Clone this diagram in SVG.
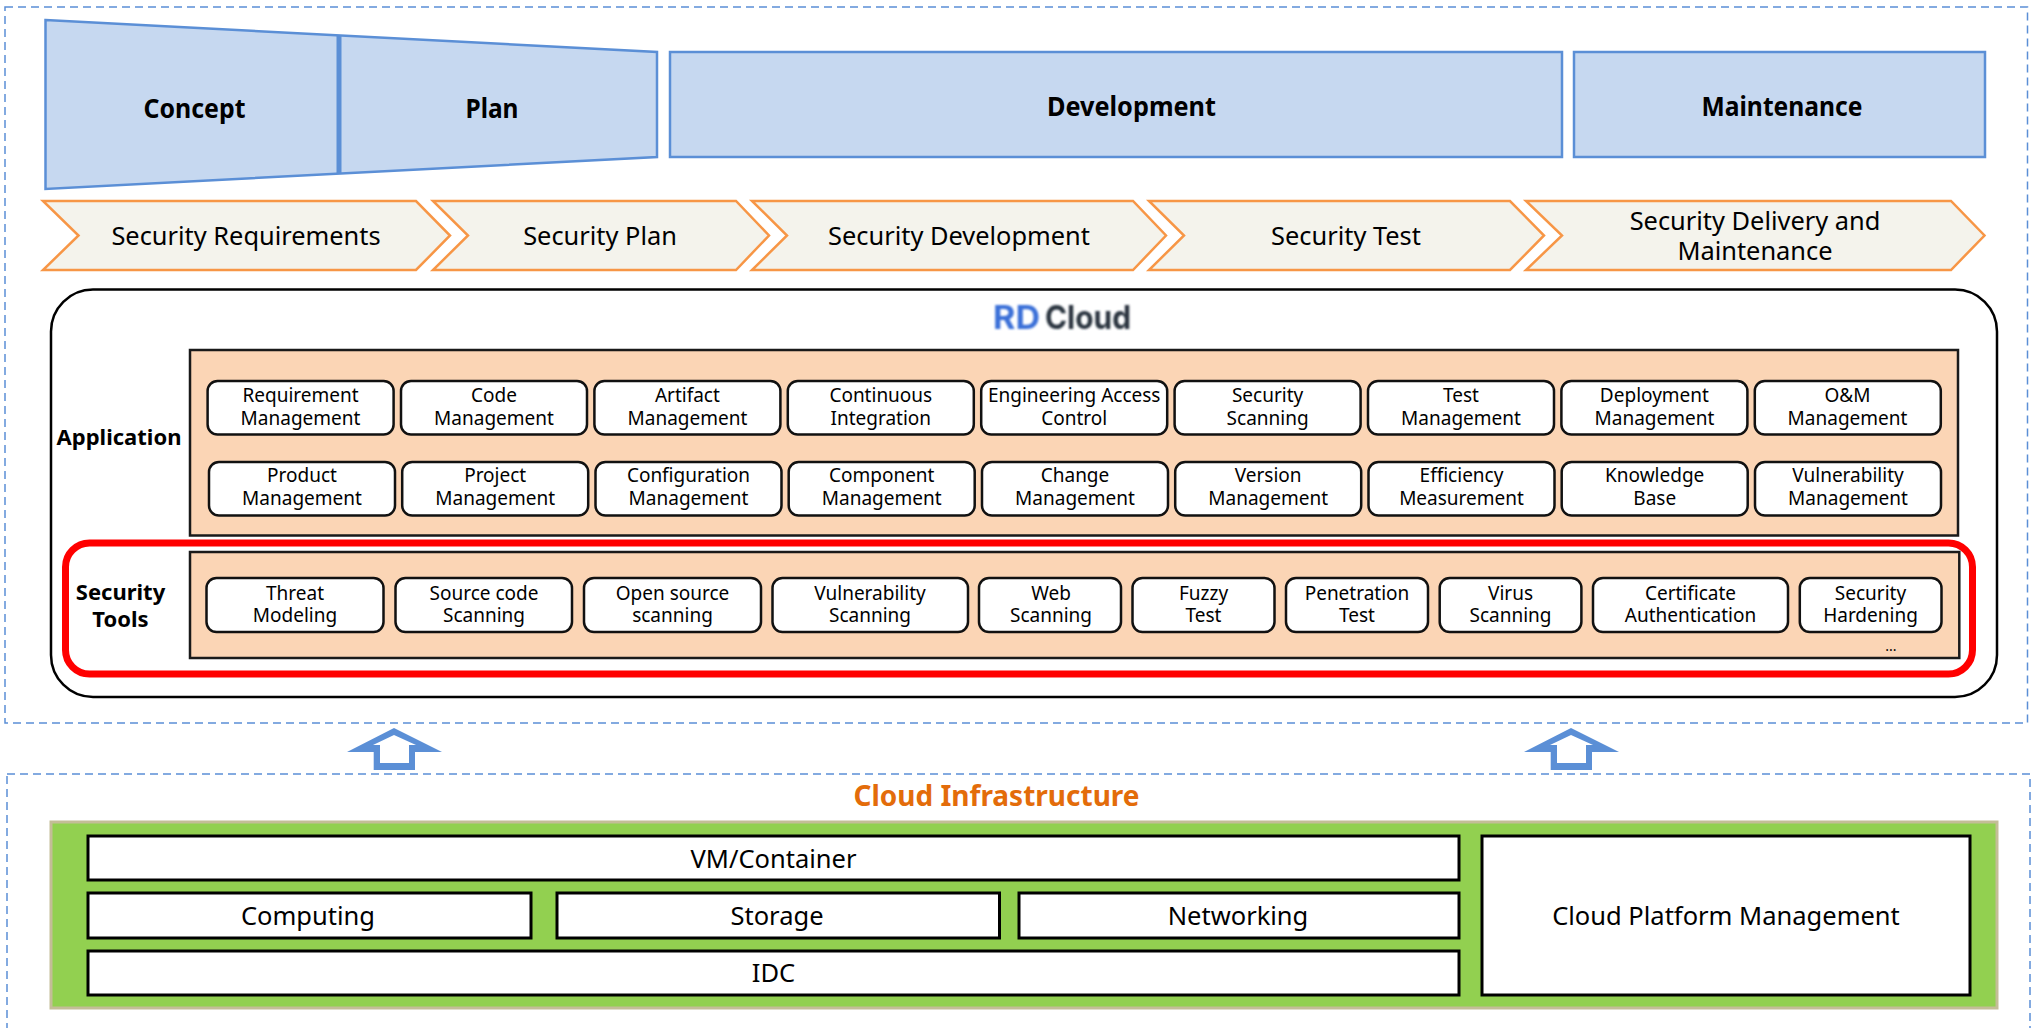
<svg xmlns="http://www.w3.org/2000/svg" width="2035" height="1028" viewBox="0 0 2035 1028">
<defs><filter id="soft" x="-5%" y="-20%" width="110%" height="140%"><feGaussianBlur stdDeviation="0.9"/></filter></defs>
<style>
text{font-family:"Noto Sans","Open Sans","Liberation Sans",sans-serif;text-anchor:middle;fill:#000}
.dash{fill:none;stroke:#5B8FD6;stroke-width:1.5;stroke-dasharray:8 5}
.phase{fill:#C6D8F0;stroke:#5B8FD6;stroke-width:2.5}
.chev{fill:#F4F3EC;stroke:#F79646;stroke-width:2.5}
.phaset{font-size:26.500px;font-weight:700}
.chevt{font-size:25.400px}
.panel{fill:#FBD5B5;stroke:#1a1a1a;stroke-width:2.5}
.item{fill:#fff;stroke:#111;stroke-width:2.5}
.it{font-size:19px}
.side{font-size:22px;font-weight:700}
.infra{fill:#fff;stroke:#000;stroke-width:3}
.infrat{font-size:25.500px}
</style>
<rect class="dash" x="5" y="7" width="2022.500" height="716"/>
<rect class="dash" x="7" y="774" width="2023" height="270"/>
<g id="concept-plan"><path class="phase" d="M45.500 20L657 52V157L45.500 189Z"/><path d="M339 35V173" stroke="#5B8FD6" stroke-width="5" fill="none"/><text class="phaset" x="194.500" y="118" textLength="102" lengthAdjust="spacingAndGlyphs">Concept</text><text class="phaset" x="492" y="118" textLength="53" lengthAdjust="spacingAndGlyphs">Plan</text></g>
<g id="development"><rect class="phase" x="670" y="52" width="892" height="105"/><text class="phaset" x="1131.500" y="116" textLength="169" lengthAdjust="spacingAndGlyphs">Development</text></g>
<g id="maintenance"><rect class="phase" x="1574" y="52" width="411" height="105"/><text class="phaset" x="1782" y="116" textLength="161" lengthAdjust="spacingAndGlyphs">Maintenance</text></g>
<g id="sec-requirements"><path class="chev" d="M43 201H416L450 235.500L416 270H43L78.500 235.500Z"/><text class="chevt" x="246" y="245">Security Requirements</text></g>
<g id="sec-plan"><path class="chev" d="M433 201H736L769 235.500L736 270H433L468 235.500Z"/><text class="chevt" x="600" y="245">Security Plan</text></g>
<g id="sec-development"><path class="chev" d="M752 201H1133L1166 235.500L1133 270H752L787 235.500Z"/><text class="chevt" x="959" y="245">Security Development</text></g>
<g id="sec-test"><path class="chev" d="M1149 201H1510L1544 235.500L1510 270H1149L1184 235.500Z"/><text class="chevt" x="1346" y="245">Security Test</text></g>
<g id="sec-delivery"><path class="chev" d="M1526 201H1951L1984.500 235.500L1951 270H1526L1562 235.500Z"/><text class="chevt" x="1755" y="230">Security Delivery and</text><text class="chevt" x="1755" y="260">Maintenance</text></g>
<g id="rd-cloud"><rect x="51" y="289.500" width="1946" height="407.500" rx="42" fill="#fff" stroke="#000" stroke-width="2.500"/>
<text x="1016.500" y="329" filter="url(#soft)" style="font-family:Inter,'Liberation Sans',sans-serif;font-size:33px;font-weight:700;fill:#3A6FD8" textLength="47" lengthAdjust="spacingAndGlyphs">RD</text>
<text x="1088" y="329" filter="url(#soft)" style="font-family:Inter,'Liberation Sans',sans-serif;font-size:33px;font-weight:700;fill:#2B3440" textLength="86" lengthAdjust="spacingAndGlyphs">Cloud</text></g>
<g id="application"><text class="side" x="119" y="445">Application</text><rect class="panel" x="190" y="350" width="1768" height="185.500"/>
<g id="app-1"><rect class="item" x="207.600" y="381" width="186" height="53.500" rx="10"/><text class="it" x="300.500" y="402">Requirement</text><text class="it" x="300.500" y="424.800">Management</text></g>
<g id="app-2"><rect class="item" x="401" y="381" width="186" height="53.500" rx="10"/><text class="it" x="494" y="402">Code</text><text class="it" x="494" y="424.800">Management</text></g>
<g id="app-3"><rect class="item" x="594.400" y="381" width="186" height="53.500" rx="10"/><text class="it" x="687.400" y="402">Artifact</text><text class="it" x="687.400" y="424.800">Management</text></g>
<g id="app-4"><rect class="item" x="787.800" y="381" width="186" height="53.500" rx="10"/><text class="it" x="880.800" y="402">Continuous</text><text class="it" x="880.800" y="424.800">Integration</text></g>
<g id="app-5"><rect class="item" x="981.200" y="381" width="186" height="53.500" rx="10"/><text class="it" x="1074.200" y="402">Engineering Access</text><text class="it" x="1074.200" y="424.800">Control</text></g>
<g id="app-6"><rect class="item" x="1174.600" y="381" width="186" height="53.500" rx="10"/><text class="it" x="1267.600" y="402">Security</text><text class="it" x="1267.600" y="424.800">Scanning</text></g>
<g id="app-7"><rect class="item" x="1368" y="381" width="186" height="53.500" rx="10"/><text class="it" x="1461" y="402">Test</text><text class="it" x="1461" y="424.800">Management</text></g>
<g id="app-8"><rect class="item" x="1561.400" y="381" width="186" height="53.500" rx="10"/><text class="it" x="1654.400" y="402">Deployment</text><text class="it" x="1654.400" y="424.800">Management</text></g>
<g id="app-9"><rect class="item" x="1754.800" y="381" width="186" height="53.500" rx="10"/><text class="it" x="1847.500" y="402">O&amp;M</text><text class="it" x="1847.500" y="424.800">Management</text></g>
<g id="app-10"><rect class="item" x="209" y="462" width="186" height="53.500" rx="10"/><text class="it" x="302" y="482.300">Product</text><text class="it" x="302" y="505">Management</text></g>
<g id="app-11"><rect class="item" x="402.200" y="462" width="186" height="53.500" rx="10"/><text class="it" x="495.200" y="482.300">Project</text><text class="it" x="495.200" y="505">Management</text></g>
<g id="app-12"><rect class="item" x="595.500" y="462" width="186" height="53.500" rx="10"/><text class="it" x="688.500" y="482.300">Configuration</text><text class="it" x="688.500" y="505">Management</text></g>
<g id="app-13"><rect class="item" x="788.700" y="462" width="186" height="53.500" rx="10"/><text class="it" x="881.700" y="482.300">Component</text><text class="it" x="881.700" y="505">Management</text></g>
<g id="app-14"><rect class="item" x="982" y="462" width="186" height="53.500" rx="10"/><text class="it" x="1075" y="482.300">Change</text><text class="it" x="1075" y="505">Management</text></g>
<g id="app-15"><rect class="item" x="1175.200" y="462" width="186" height="53.500" rx="10"/><text class="it" x="1268.200" y="482.300">Version</text><text class="it" x="1268.200" y="505">Management</text></g>
<g id="app-16"><rect class="item" x="1368.500" y="462" width="186" height="53.500" rx="10"/><text class="it" x="1461.500" y="482.300">Efficiency</text><text class="it" x="1461.500" y="505">Measurement</text></g>
<g id="app-17"><rect class="item" x="1561.700" y="462" width="186" height="53.500" rx="10"/><text class="it" x="1654.700" y="482.300">Knowledge</text><text class="it" x="1654.700" y="505">Base</text></g>
<g id="app-18"><rect class="item" x="1755" y="462" width="186" height="53.500" rx="10"/><text class="it" x="1848" y="482.300">Vulnerability</text><text class="it" x="1848" y="505">Management</text></g>
</g>
<g id="security-tools"><rect x="65.500" y="543" width="1907" height="131" rx="24" fill="none" stroke="#FF0000" stroke-width="7"/><text class="side" x="120.500" y="600">Security</text><text class="side" x="120.500" y="627">Tools</text><rect class="panel" x="190" y="552" width="1769.300" height="106"/>
<g id="tool-1"><rect class="item" x="206.500" y="578" width="177" height="54" rx="10"/><text class="it" x="295" y="599.500">Threat</text><text class="it" x="295" y="622.300">Modeling</text></g>
<g id="tool-2"><rect class="item" x="395.500" y="578" width="176.500" height="54" rx="10"/><text class="it" x="484" y="599.500">Source code</text><text class="it" x="484" y="622.300">Scanning</text></g>
<g id="tool-3"><rect class="item" x="584" y="578" width="177" height="54" rx="10"/><text class="it" x="672.500" y="599.500">Open source</text><text class="it" x="672.500" y="622.300">scanning</text></g>
<g id="tool-4"><rect class="item" x="772.500" y="578" width="195.500" height="54" rx="10"/><text class="it" x="870" y="599.500">Vulnerability</text><text class="it" x="870" y="622.300">Scanning</text></g>
<g id="tool-5"><rect class="item" x="979" y="578" width="142" height="54" rx="10"/><text class="it" x="1051" y="599.500">Web</text><text class="it" x="1051" y="622.300">Scanning</text></g>
<g id="tool-6"><rect class="item" x="1132.500" y="578" width="142" height="54" rx="10"/><text class="it" x="1203.500" y="599.500">Fuzzy</text><text class="it" x="1203.500" y="622.300">Test</text></g>
<g id="tool-7"><rect class="item" x="1286" y="578" width="142" height="54" rx="10"/><text class="it" x="1357" y="599.500">Penetration</text><text class="it" x="1357" y="622.300">Test</text></g>
<g id="tool-8"><rect class="item" x="1439.700" y="578" width="141.700" height="54" rx="10"/><text class="it" x="1510.500" y="599.500">Virus</text><text class="it" x="1510.500" y="622.300">Scanning</text></g>
<g id="tool-9"><rect class="item" x="1593" y="578" width="195" height="54" rx="10"/><text class="it" x="1690.500" y="599.500">Certificate</text><text class="it" x="1690.500" y="622.300">Authentication</text></g>
<g id="tool-10"><rect class="item" x="1799.800" y="578" width="141.700" height="54" rx="10"/><text class="it" x="1870.500" y="599.500">Security</text><text class="it" x="1870.500" y="622.300">Hardening</text></g>
<text x="1891" y="651" style="font-size:14px">...</text>
</g>
<g id="connectors">
<path id="arrow-1" fill="#5B8FD6" fill-rule="evenodd" d="M394 728L442 752H415V770H373.700V752H347ZM394 735L373 745H380V763H409V745H416Z"/>
<path id="arrow-2" fill="#5B8FD6" fill-rule="evenodd" d="M1571 728L1619 752H1592V770H1550.700V752H1524ZM1571 735L1550 745H1557V763H1586V745H1593Z"/>
</g>
<g id="cloud-infrastructure"><text x="996.500" y="806" style="font-size:28px;font-weight:700;fill:#E36C0A">Cloud Infrastructure</text><rect x="51" y="822" width="1946" height="186" fill="#92D050" stroke="#C4BD97" stroke-width="3"/></g>
<g id="vm-container"><rect class="infra" x="88" y="836" width="1371" height="44"/><text class="infrat" x="773.500" y="867.500">VM/Container</text></g>
<g id="computing"><rect class="infra" x="88" y="893" width="443" height="45"/><text class="infrat" x="308" y="925">Computing</text></g>
<g id="storage"><rect class="infra" x="557" y="893" width="442.500" height="45"/><text class="infrat" x="777" y="925">Storage</text></g>
<g id="networking"><rect class="infra" x="1019" y="893" width="440" height="45"/><text class="infrat" x="1238" y="925">Networking</text></g>
<g id="idc"><rect class="infra" x="88" y="951" width="1371" height="44"/><text class="infrat" x="773.500" y="982">IDC</text></g>
<g id="cloud-platform"><rect class="infra" x="1482" y="836" width="488" height="159"/><text class="infrat" x="1726" y="925">Cloud Platform Management</text></g>
</svg>
